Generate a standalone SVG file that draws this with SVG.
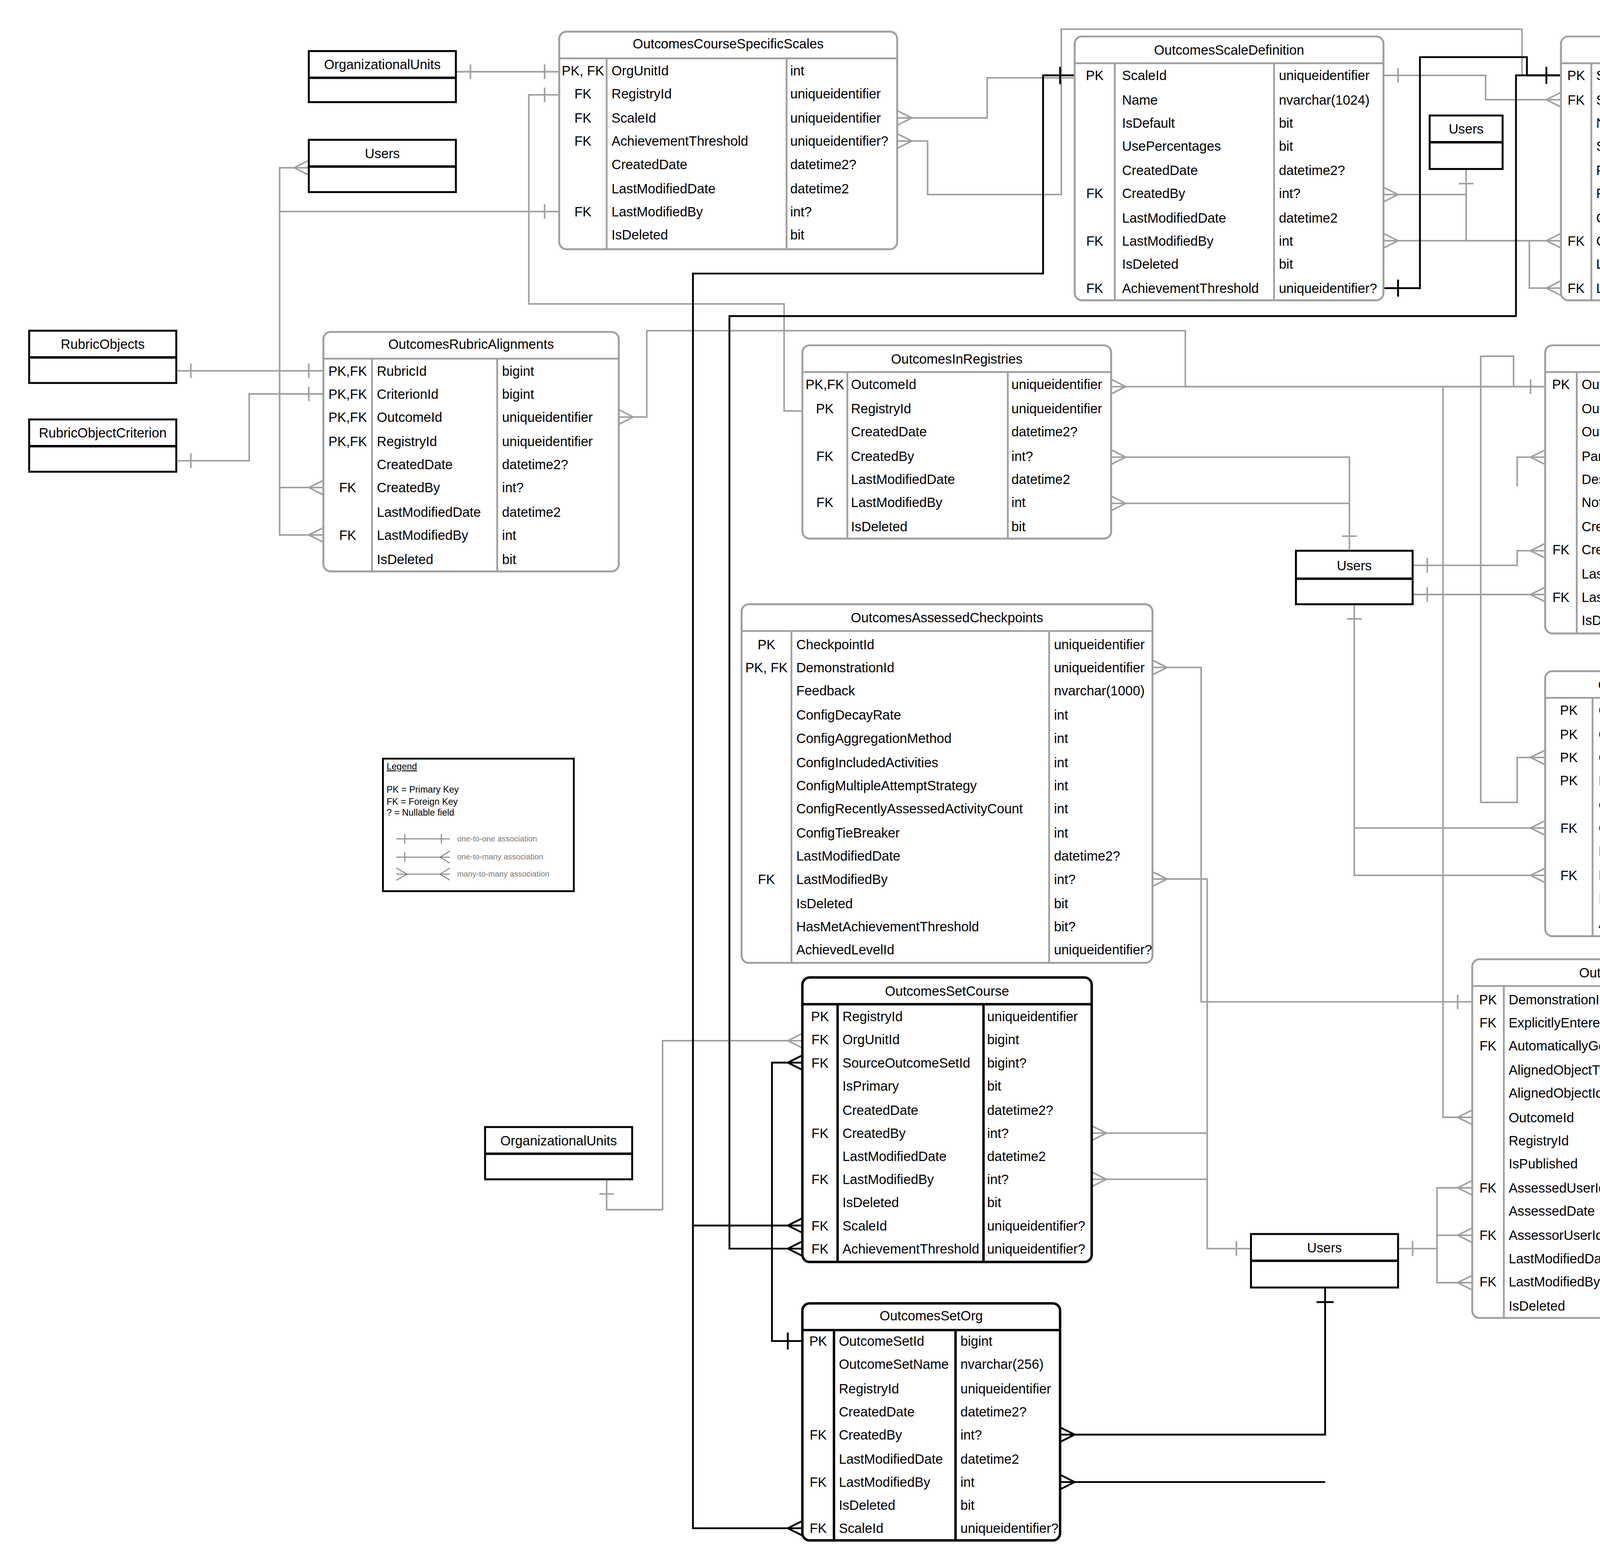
<svg xmlns="http://www.w3.org/2000/svg" width="4855" height="4001" viewBox="0 0 4855 4001">
<style>
text{font-family:"Liberation Sans",Arial,sans-serif;font-size:11px;fill:#000}
.t{text-anchor:middle}
.k{text-anchor:middle}
.tb{fill:#fff;stroke:#a0a0a0;stroke-width:1.6}
.tbb{fill:#fff;stroke:#000;stroke-width:2}
.ln{stroke:#a0a0a0;stroke-width:1.5}
.lnb{stroke:#000;stroke-width:2}
.box{fill:#fff;stroke:#000;stroke-width:1.6}
.c{fill:none;stroke:#a0a0a0;stroke-width:1.3}
.cb{fill:none;stroke:#000;stroke-width:1.5}
.g{marker-start:url(#m);marker-end:url(#o)}
</style>
<defs>
<marker id="m" markerUnits="userSpaceOnUse" orient="auto-start-reverse" markerWidth="30" markerHeight="30" refX="0" refY="0" viewBox="-15 -15 30 30" overflow="visible"><path d="M-12 0L0-6M-12 0L0 6" fill="none" stroke="#a0a0a0" stroke-width="1.3"/></marker>
<marker id="o" markerUnits="userSpaceOnUse" orient="auto-start-reverse" markerWidth="30" markerHeight="30" refX="0" refY="0" viewBox="-15 -15 30 30" overflow="visible"><path d="M-12-6V6" fill="none" stroke="#a0a0a0" stroke-width="1.3"/></marker>
<marker id="mb" markerUnits="userSpaceOnUse" orient="auto-start-reverse" markerWidth="30" markerHeight="30" refX="0" refY="0" viewBox="-15 -15 30 30" overflow="visible"><path d="M-12 0L0-6M-12 0L0 6" fill="none" stroke="#000" stroke-width="1.5"/></marker>
<marker id="ob" markerUnits="userSpaceOnUse" orient="auto-start-reverse" markerWidth="30" markerHeight="30" refX="0" refY="0" viewBox="-15 -15 30 30" overflow="visible"><path d="M-12-7V7" fill="none" stroke="#000" stroke-width="1.5"/></marker>
</defs>
<rect width="4855" height="4001" fill="#fff"/>
<g transform="scale(3.1122)">
<g id="connectors">
<path class="c" d="M375 59H460" marker-start="url(#o)" marker-end="url(#o)"/>
<path class="c" d="M266 440H230V138H254" marker-start="url(#m)" marker-end="url(#m)"/>
<path class="c" d="M266 401H230" marker-start="url(#m)"/>
<path class="c" d="M460 174H230" marker-start="url(#o)"/>
<path class="c" d="M460 78H435V250H645V338H660" marker-start="url(#o)"/>
<path class="c" d="M145 305H266" marker-start="url(#o)" marker-end="url(#o)"/>
<path class="c" d="M145 379H205V324H266" marker-start="url(#o)" marker-end="url(#o)"/>
<path class="c" d="M509 343H532V272H975V318H1271" marker-start="url(#m)" marker-end="url(#o)"/>
<path class="c" d="M738 97H812V64H884" marker-start="url(#m)" marker-end="url(#o)"/>
<path class="c" d="M738 116H763V160H873V24H1252V62H1284" marker-start="url(#m)"/>
<path class="c" d="M1138 62H1222V82H1284" marker-start="url(#o)" marker-end="url(#m)"/>
<path class="c" d="M1206 139V160H1138" marker-start="url(#o)" marker-end="url(#m)"/>
<path class="c" d="M1206 160V198H1138" marker-end="url(#m)"/>
<path class="c" d="M1206 198H1284" marker-end="url(#m)"/>
<path class="c" d="M1206 198H1258V237H1284" marker-end="url(#m)"/>
<path class="c" d="M914 318H1271" marker-start="url(#m)"/>
<path class="c" d="M914 376H1110V453" marker-start="url(#m)" marker-end="url(#o)"/>
<path class="c" d="M914 414H1110" marker-start="url(#m)"/>
<path class="c" d="M1162 465H1248V453H1271" marker-start="url(#o)" marker-end="url(#m)"/>
<path class="c" d="M1162 489H1271" marker-start="url(#o)" marker-end="url(#m)"/>
<path class="c" d="M1271 376H1248V400" marker-start="url(#m)"/>
<path class="c" d="M1245 318V293H1218V660H1248V623H1271" marker-end="url(#m)"/>
<path class="c" d="M1114 497V720H1271" marker-start="url(#o)" marker-end="url(#m)"/>
<path class="c" d="M1114 681H1271" marker-end="url(#m)"/>
<path class="c" d="M1514 62H1540V896" marker-start="url(#o)"/>
<path class="c" d="M1514 841H1527V880" marker-start="url(#m)"/>
<path class="c" d="M1514 861H1527" marker-start="url(#m)"/>
<path class="c" d="M948 549H988V824H1211" marker-start="url(#m)" marker-end="url(#o)"/>
<path class="c" d="M948 723H993V1027H1029" marker-start="url(#m)" marker-end="url(#o)"/>
<path class="c" d="M898 932H993" marker-start="url(#m)"/>
<path class="c" d="M898 970H993" marker-start="url(#m)"/>
<path class="c" d="M1150 1027H1182V977H1211" marker-start="url(#o)" marker-end="url(#m)"/>
<path class="c" d="M1182 1016H1211" marker-end="url(#m)"/>
<path class="c" d="M1182 1027V1055H1211" marker-end="url(#m)"/>
<path class="c" d="M1211 919H1187V318" marker-start="url(#m)"/>
<path class="c" d="M499 970V995H545V856H660" marker-start="url(#o)" marker-end="url(#m)"/>
<path class="cb" d="M884 62H858V225H570V1257H660" marker-start="url(#ob)" marker-end="url(#mb)"/>
<path class="cb" d="M570 1008H660" marker-end="url(#mb)"/>
<path class="cb" d="M1284 62H1247V260H600V1027H660" marker-start="url(#ob)" marker-end="url(#mb)"/>
<path class="cb" d="M1138 237H1168V47H1256V62H1284" marker-start="url(#ob)"/>
<path class="cb" d="M660 874H635V1103H660" marker-start="url(#mb)" marker-end="url(#ob)"/>
<path class="cb" d="M872 1180H1090V1059" marker-start="url(#mb)" marker-end="url(#ob)"/>
<path class="cb" d="M872 1219H1090" marker-start="url(#mb)"/>
</g>

<g id="OrganizationalUnits1"><rect class="box" x="254" y="42" width="121" height="42"/><line class="lnb" x1="254" y1="64" x2="375" y2="64" stroke-width="1.6"/><text class="t" x="314.5" y="57">OrganizationalUnits</text></g>
<g id="Users1"><rect class="box" x="254" y="115" width="121" height="43"/><line class="lnb" x1="254" y1="137" x2="375" y2="137" stroke-width="1.6"/><text class="t" x="314.5" y="130">Users</text></g>
<g id="RubricObjects"><rect class="box" x="24" y="272" width="121" height="43"/><line class="lnb" x1="24" y1="294" x2="145" y2="294" stroke-width="1.6"/><text class="t" x="84.5" y="287">RubricObjects</text></g>
<g id="RubricObjectCriterion"><rect class="box" x="24" y="345" width="121" height="43"/><line class="lnb" x1="24" y1="367" x2="145" y2="367" stroke-width="1.6"/><text class="t" x="84.5" y="360">RubricObjectCriterion</text></g>
<g id="Users2"><rect class="box" x="1176" y="95" width="60" height="44"/><line class="lnb" x1="1176" y1="117" x2="1236" y2="117" stroke-width="1.6"/><text class="t" x="1206" y="110">Users</text></g>
<g id="Users3"><rect class="box" x="1066" y="453" width="96" height="44"/><line class="lnb" x1="1066" y1="476" x2="1162" y2="476" stroke-width="1.6"/><text class="t" x="1114" y="469">Users</text></g>
<g id="OrganizationalUnits2"><rect class="box" x="399" y="927" width="121" height="43"/><line class="lnb" x1="399" y1="949" x2="520" y2="949" stroke-width="1.6"/><text class="t" x="459.5" y="942">OrganizationalUnits</text></g>
<g id="Users4"><rect class="box" x="1029" y="1015" width="121" height="44"/><line class="lnb" x1="1029" y1="1037" x2="1150" y2="1037" stroke-width="1.6"/><text class="t" x="1089.5" y="1030">Users</text></g>

<g id="OutcomesCourseSpecificScales">
<rect class="tb" x="460" y="26" width="278" height="179" rx="6"/>
<path class="ln" d="M460 48H738M499 48V205M647 48V205"/>
<text class="t" x="599" y="40">OutcomesCourseSpecificScales</text>
<text class="k" x="479.5" y="62">PK, FK</text><text x="503" y="62">OrgUnitId</text><text x="650" y="62">int</text>
<text class="k" x="479.5" y="81">FK</text><text x="503" y="81">RegistryId</text><text x="650" y="81">uniqueidentifier</text>
<text class="k" x="479.5" y="101">FK</text><text x="503" y="101">ScaleId</text><text x="650" y="101">uniqueidentifier</text>
<text class="k" x="479.5" y="120">FK</text><text x="503" y="120">AchievementThreshold</text><text x="650" y="120">uniqueidentifier?</text>
<text x="503" y="139">CreatedDate</text><text x="650" y="139">datetime2?</text>
<text x="503" y="159">LastModifiedDate</text><text x="650" y="159">datetime2</text>
<text class="k" x="479.5" y="178">FK</text><text x="503" y="178">LastModifiedBy</text><text x="650" y="178">int?</text>
<text x="503" y="197">IsDeleted</text><text x="650" y="197">bit</text>
</g>

<g id="OutcomesScaleDefinition">
<rect class="tb" x="884" y="30" width="254" height="217" rx="6"/>
<path class="ln" d="M884 52H1138M917 52V247M1048 52V247"/>
<text class="t" x="1011" y="45">OutcomesScaleDefinition</text>
<text class="k" x="900.5" y="66">PK</text><text x="923" y="66">ScaleId</text><text x="1052" y="66">uniqueidentifier</text>
<text x="923" y="86">Name</text><text x="1052" y="86">nvarchar(1024)</text>
<text x="923" y="105">IsDefault</text><text x="1052" y="105">bit</text>
<text x="923" y="124">UsePercentages</text><text x="1052" y="124">bit</text>
<text x="923" y="144">CreatedDate</text><text x="1052" y="144">datetime2?</text>
<text class="k" x="900.5" y="163">FK</text><text x="923" y="163">CreatedBy</text><text x="1052" y="163">int?</text>
<text x="923" y="183">LastModifiedDate</text><text x="1052" y="183">datetime2</text>
<text class="k" x="900.5" y="202">FK</text><text x="923" y="202">LastModifiedBy</text><text x="1052" y="202">int</text>
<text x="923" y="221">IsDeleted</text><text x="1052" y="221">bit</text>
<text class="k" x="900.5" y="241">FK</text><text x="923" y="241">AchievementThreshold</text><text x="1052" y="241">uniqueidentifier?</text>
</g>

<g id="OutcomesScaleLevelDefinition">
<rect class="tb" x="1284" y="30" width="230" height="217" rx="6"/>
<path class="ln" d="M1284 52H1514M1309 52V247M1427 52V247"/>
<text class="t" x="1399" y="45">OutcomesScaleLevelDefinition</text>
<text class="k" x="1296.5" y="66">PK</text><text x="1313" y="66">ScaleLevelId</text><text x="1431" y="66">uniqueidentifier</text>
<text class="k" x="1296.5" y="86">FK</text><text x="1313" y="86">ScaleId</text><text x="1431" y="86">uniqueidentifier</text>
<text x="1313" y="105">Name</text><text x="1431" y="105">nvarchar(1024)</text>
<text x="1313" y="124">SortOrder</text><text x="1431" y="124">int</text>
<text x="1313" y="144">PercentageRangeStart</text><text x="1431" y="144">int?</text>
<text x="1313" y="163">RGB</text><text x="1431" y="163">nvarchar(40)</text>
<text x="1313" y="183">CreatedDate</text><text x="1431" y="183">datetime2?</text>
<text class="k" x="1296.5" y="202">FK</text><text x="1313" y="202">CreatedBy</text><text x="1431" y="202">int?</text>
<text x="1313" y="221">LastModifiedDate</text><text x="1431" y="221">datetime2</text>
<text class="k" x="1296.5" y="241">FK</text><text x="1313" y="241">LastModifiedBy</text><text x="1431" y="241">int</text>
</g>

<g id="OutcomesRubricAlignments">
<rect class="tb" x="266" y="273" width="243" height="197" rx="6"/>
<path class="ln" d="M266 295H509M306 295V470M409 295V470"/>
<text class="t" x="387.5" y="287">OutcomesRubricAlignments</text>
<text class="k" x="286" y="309">PK,FK</text><text x="310" y="309">RubricId</text><text x="413" y="309">bigint</text>
<text class="k" x="286" y="328">PK,FK</text><text x="310" y="328">CriterionId</text><text x="413" y="328">bigint</text>
<text class="k" x="286" y="347">PK,FK</text><text x="310" y="347">OutcomeId</text><text x="413" y="347">uniqueidentifier</text>
<text class="k" x="286" y="367">PK,FK</text><text x="310" y="367">RegistryId</text><text x="413" y="367">uniqueidentifier</text>
<text x="310" y="386">CreatedDate</text><text x="413" y="386">datetime2?</text>
<text class="k" x="286" y="405">FK</text><text x="310" y="405">CreatedBy</text><text x="413" y="405">int?</text>
<text x="310" y="425">LastModifiedDate</text><text x="413" y="425">datetime2</text>
<text class="k" x="286" y="444">FK</text><text x="310" y="444">LastModifiedBy</text><text x="413" y="444">int</text>
<text x="310" y="464">IsDeleted</text><text x="413" y="464">bit</text>
</g>

<g id="OutcomesInRegistries">
<rect class="tb" x="660" y="284" width="254" height="159" rx="6"/>
<path class="ln" d="M660 306H914M697 306V443M829 306V443"/>
<text class="t" x="787" y="299">OutcomesInRegistries</text>
<text class="k" x="678.5" y="320">PK,FK</text><text x="700" y="320">OutcomeId</text><text x="832" y="320">uniqueidentifier</text>
<text class="k" x="678.5" y="340">PK</text><text x="700" y="340">RegistryId</text><text x="832" y="340">uniqueidentifier</text>
<text x="700" y="359">CreatedDate</text><text x="832" y="359">datetime2?</text>
<text class="k" x="678.5" y="379">FK</text><text x="700" y="379">CreatedBy</text><text x="832" y="379">int?</text>
<text x="700" y="398">LastModifiedDate</text><text x="832" y="398">datetime2</text>
<text class="k" x="678.5" y="417">FK</text><text x="700" y="417">LastModifiedBy</text><text x="832" y="417">int</text>
<text x="700" y="437">IsDeleted</text><text x="832" y="437">bit</text>
</g>

<g id="OutcomeDetails">
<rect class="tb" x="1271" y="284" width="243" height="237" rx="6"/>
<path class="ln" d="M1271 306H1514M1297 306V521M1427 306V521"/>
<text class="t" x="1392.5" y="299">OutcomeDetails</text>
<text class="k" x="1284" y="320">PK</text><text x="1301" y="320">OutcomeId</text><text x="1430" y="320">uniqueidentifier</text>
<text x="1301" y="340">OutcomeDefinitionSource</text><text x="1430" y="340">nvarchar(32)</text>
<text x="1301" y="359">OutcomeDefinitionId</text><text x="1430" y="359">nvarchar(128)?</text>
<text x="1301" y="379">ParentOutcomeId</text><text x="1430" y="379">uniqueidentifier?</text>
<text x="1301" y="398">Description</text><text x="1430" y="398">nvarchar(1024)</text>
<text x="1301" y="417">Notation</text><text x="1430" y="417">nvarchar(128)?</text>
<text x="1301" y="437">CreatedDate</text><text x="1430" y="437">datetime2?</text>
<text class="k" x="1284" y="456">FK</text><text x="1301" y="456">CreatedBy</text><text x="1430" y="456">int?</text>
<text x="1301" y="476">LastModifiedDate</text><text x="1430" y="476">datetime2?</text>
<text class="k" x="1284" y="495">FK</text><text x="1301" y="495">LastModifiedBy</text><text x="1430" y="495">int?</text>
<text x="1301" y="514">IsDeleted</text><text x="1430" y="514">bit</text>
</g>

<g id="OutcomesAlignedToToolObjects">
<rect class="tb" x="1271" y="552" width="243" height="218" rx="6"/>
<path class="ln" d="M1271 574H1514M1310 574V770M1413 574V770"/>
<text class="t" x="1392.5" y="567">OutcomesAlignedToToolObjects</text>
<text class="k" x="1290.5" y="588">PK</text><text x="1315" y="588">ObjectType</text><text x="1417" y="588">int</text>
<text class="k" x="1290.5" y="608">PK</text><text x="1315" y="608">ObjectId</text><text x="1417" y="608">nvarchar(255)</text>
<text class="k" x="1290.5" y="627">PK</text><text x="1315" y="627">OutcomeId</text><text x="1417" y="627">uniqueidentifier</text>
<text class="k" x="1290.5" y="646">PK</text><text x="1315" y="646">RegistryId</text><text x="1417" y="646">uniqueidentifier</text>
<text x="1315" y="666">CreatedDate</text><text x="1417" y="666">datetime2?</text>
<text class="k" x="1290.5" y="685">FK</text><text x="1315" y="685">CreatedBy</text><text x="1417" y="685">int?</text>
<text x="1315" y="704">LastModifiedDate</text><text x="1417" y="704">datetime2</text>
<text class="k" x="1290.5" y="724">FK</text><text x="1315" y="724">LastModifiedBy</text><text x="1417" y="724">int</text>
<text x="1315" y="743">IsDeleted</text><text x="1417" y="743">bit</text>
<text x="1315" y="763">AIUtilization</text><text x="1417" y="763">int</text>
</g>

<g id="OutcomesAssessedCheckpoints">
<rect class="tb" x="610" y="497" width="338" height="295" rx="6"/>
<path class="ln" d="M610 519H948M651 519V792M863 519V792"/>
<text class="t" x="779" y="512">OutcomesAssessedCheckpoints</text>
<text class="k" x="630.5" y="534">PK</text><text x="655" y="534">CheckpointId</text><text x="867" y="534">uniqueidentifier</text>
<text class="k" x="630.5" y="553">PK, FK</text><text x="655" y="553">DemonstrationId</text><text x="867" y="553">uniqueidentifier</text>
<text x="655" y="572">Feedback</text><text x="867" y="572">nvarchar(1000)</text>
<text x="655" y="592">ConfigDecayRate</text><text x="867" y="592">int</text>
<text x="655" y="611">ConfigAggregationMethod</text><text x="867" y="611">int</text>
<text x="655" y="631">ConfigIncludedActivities</text><text x="867" y="631">int</text>
<text x="655" y="650">ConfigMultipleAttemptStrategy</text><text x="867" y="650">int</text>
<text x="655" y="669">ConfigRecentlyAssessedActivityCount</text><text x="867" y="669">int</text>
<text x="655" y="689">ConfigTieBreaker</text><text x="867" y="689">int</text>
<text x="655" y="708">LastModifiedDate</text><text x="867" y="708">datetime2?</text>
<text class="k" x="630.5" y="727">FK</text><text x="655" y="727">LastModifiedBy</text><text x="867" y="727">int?</text>
<text x="655" y="747">IsDeleted</text><text x="867" y="747">bit</text>
<text x="655" y="766">HasMetAchievementThreshold</text><text x="867" y="766">bit?</text>
<text x="655" y="785">AchievedLevelId</text><text x="867" y="785">uniqueidentifier?</text>
</g>

<g id="OutcomesSetCourse">
<rect class="tbb" x="660" y="804" width="238" height="234" rx="6"/>
<path class="lnb" d="M660 826H898M689 826V1038M809 826V1038" stroke-width="1.6"/>
<text class="t" x="779" y="819">OutcomesSetCourse</text>
<text class="k" x="674.5" y="840">PK</text><text x="693" y="840">RegistryId</text><text x="812" y="840">uniqueidentifier</text>
<text class="k" x="674.5" y="859">FK</text><text x="693" y="859">OrgUnitId</text><text x="812" y="859">bigint</text>
<text class="k" x="674.5" y="878">FK</text><text x="693" y="878">SourceOutcomeSetId</text><text x="812" y="878">bigint?</text>
<text x="693" y="897">IsPrimary</text><text x="812" y="897">bit</text>
<text x="693" y="917">CreatedDate</text><text x="812" y="917">datetime2?</text>
<text class="k" x="674.5" y="936">FK</text><text x="693" y="936">CreatedBy</text><text x="812" y="936">int?</text>
<text x="693" y="955">LastModifiedDate</text><text x="812" y="955">datetime2</text>
<text class="k" x="674.5" y="974">FK</text><text x="693" y="974">LastModifiedBy</text><text x="812" y="974">int?</text>
<text x="693" y="993">IsDeleted</text><text x="812" y="993">bit</text>
<text class="k" x="674.5" y="1012">FK</text><text x="693" y="1012">ScaleId</text><text x="812" y="1012">uniqueidentifier?</text>
<text class="k" x="674.5" y="1031">FK</text><text x="693" y="1031">AchievementThreshold</text><text x="812" y="1031">uniqueidentifier?</text>
</g>

<g id="OutcomesDemonstrations">
<rect class="tb" x="1211" y="789" width="303" height="295" rx="6"/>
<path class="ln" d="M1211 811H1514M1237 811V1084M1427 811V1084"/>
<text class="t" x="1362.5" y="804">OutcomesDemonstrations</text>
<text class="k" x="1224" y="826">PK</text><text x="1241" y="826">DemonstrationId</text><text x="1430" y="826">uniqueidentifier</text>
<text class="k" x="1224" y="845">FK</text><text x="1241" y="845">ExplicitlyEnteredScaleLevelId</text><text x="1430" y="845">uniqueidentifier?</text>
<text class="k" x="1224" y="864">FK</text><text x="1241" y="864">AutomaticallyGeneratedScaleLevelId</text><text x="1430" y="864">uniqueidentifier?</text>
<text x="1241" y="884">AlignedObjectType</text><text x="1430" y="884">int</text>
<text x="1241" y="903">AlignedObjectId</text><text x="1430" y="903">nvarchar(255)</text>
<text x="1241" y="923">OutcomeId</text><text x="1430" y="923">uniqueidentifier</text>
<text x="1241" y="942">RegistryId</text><text x="1430" y="942">uniqueidentifier</text>
<text x="1241" y="961">IsPublished</text><text x="1430" y="961">bit?</text>
<text class="k" x="1224" y="981">FK</text><text x="1241" y="981">AssessedUserId</text><text x="1430" y="981">int</text>
<text x="1241" y="1000">AssessedDate</text><text x="1430" y="1000">datetime2?</text>
<text class="k" x="1224" y="1020">FK</text><text x="1241" y="1020">AssessorUserId</text><text x="1430" y="1020">int?</text>
<text x="1241" y="1039">LastModifiedDate</text><text x="1430" y="1039">datetime2</text>
<text class="k" x="1224" y="1058">FK</text><text x="1241" y="1058">LastModifiedBy</text><text x="1430" y="1058">int</text>
<text x="1241" y="1078">IsDeleted</text><text x="1430" y="1078">bit</text>
</g>

<g id="OutcomesSetOrg">
<rect class="tbb" x="660" y="1072" width="212" height="195" rx="6"/>
<path class="lnb" d="M660 1094H872M686 1094V1267M786 1094V1267" stroke-width="1.6"/>
<text class="t" x="766" y="1086">OutcomesSetOrg</text>
<text class="k" x="673" y="1107">PK</text><text x="690" y="1107">OutcomeSetId</text><text x="790" y="1107">bigint</text>
<text x="690" y="1126">OutcomeSetName</text><text x="790" y="1126">nvarchar(256)</text>
<text x="690" y="1146">RegistryId</text><text x="790" y="1146">uniqueidentifier</text>
<text x="690" y="1165">CreatedDate</text><text x="790" y="1165">datetime2?</text>
<text class="k" x="673" y="1184">FK</text><text x="690" y="1184">CreatedBy</text><text x="790" y="1184">int?</text>
<text x="690" y="1204">LastModifiedDate</text><text x="790" y="1204">datetime2</text>
<text class="k" x="673" y="1223">FK</text><text x="690" y="1223">LastModifiedBy</text><text x="790" y="1223">int</text>
<text x="690" y="1242">IsDeleted</text><text x="790" y="1242">bit</text>
<text class="k" x="673" y="1261">FK</text><text x="690" y="1261">ScaleId</text><text x="790" y="1261">uniqueidentifier?</text>
</g>

<g id="Legend">
<rect x="315" y="624" width="157" height="109" fill="#fff" stroke="#000" stroke-width="1.5"/>
<text x="318" y="633" style="font-size:7.5px" text-decoration="underline">Legend</text>
<text x="318" y="652" style="font-size:7.5px">PK = Primary Key</text>
<text x="318" y="662" style="font-size:7.5px">FK = Foreign Key</text>
<text x="318" y="671" style="font-size:7.5px">? = Nullable field</text>
<path d="M326 690H370M333 686V694M363 686V694M326 705H370M333 701V709M370 700L362 705L370 710M326 719H370M326 714L335 719L326 724M370 714L362 719L370 724" fill="none" stroke="#777" stroke-width="0.7"/>
<text x="376" y="692" style="font-size:6.5px;fill:#777">one-to-one association</text>
<text x="376" y="707" style="font-size:6.5px;fill:#777">one-to-many association</text>
<text x="376" y="721" style="font-size:6.5px;fill:#777">many-to-many association</text>
</g>
</g>
</svg>
